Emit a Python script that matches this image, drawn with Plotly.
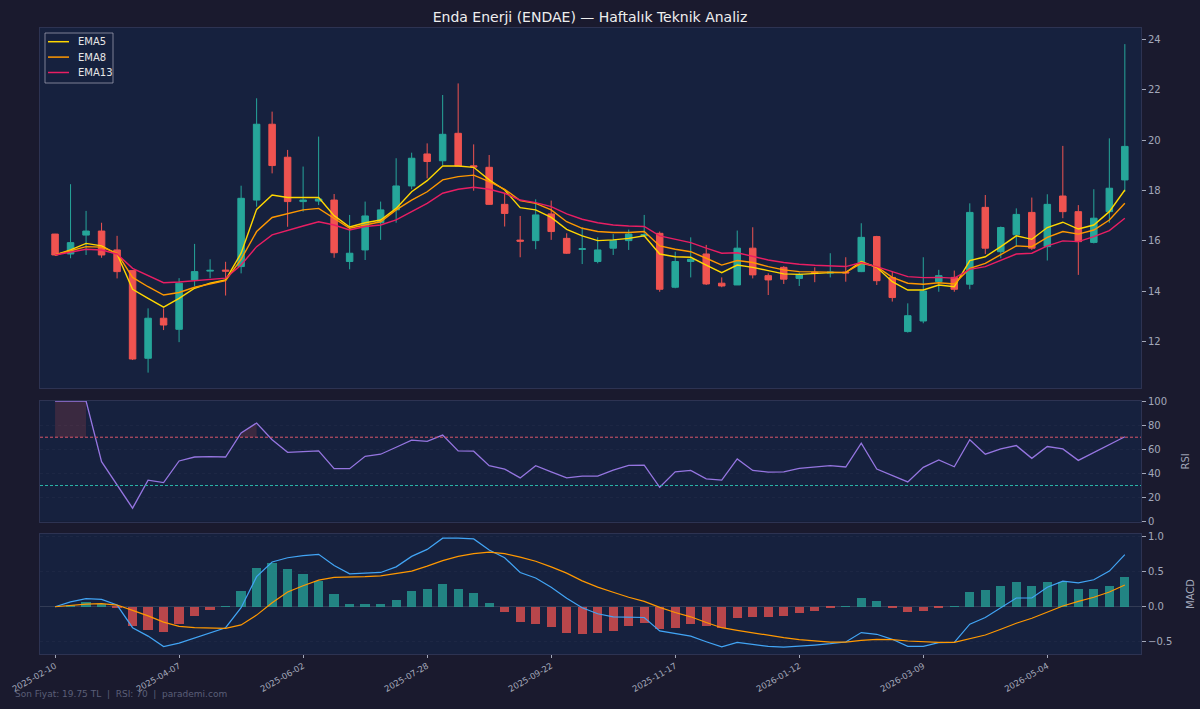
import pandas as pd
import plotly.graph_objects as go
from plotly.subplots import make_subplots

# === Weekly OHLC ===
dates = pd.date_range("2025-02-10", periods=70, freq="7D")

opens = [16.27, 15.48, 16.23, 16.39, 15.64, 14.82, 11.34, 12.93, 12.49, 14.45,
         14.80, 14.84, 14.98, 17.62, 20.63, 19.32, 17.56, 17.58, 17.62, 15.18,
         15.64, 16.72, 17.23, 18.18, 19.45, 19.18, 20.27, 18.98, 18.92, 17.45,
         16.03, 16.01, 17.07, 16.10, 15.66, 15.18, 15.71, 16.01, 16.20, 16.30,
         14.16, 15.18, 15.48, 14.32, 14.25, 15.71, 14.62, 14.95, 14.51, 14.75,
         14.72, 14.76, 14.78, 16.17, 14.55, 12.40, 12.82, 14.38, 14.55, 14.28,
         17.33, 15.57, 16.24, 17.13, 15.77, 17.78, 17.16, 15.94, 17.16, 18.42]
highs = [16.28, 18.25, 17.19, 16.72, 16.20, 14.82, 13.32, 13.32, 14.52, 15.88,
         15.27, 15.17, 18.19, 21.66, 21.13, 19.61, 18.95, 20.14, 17.86, 17.03,
         17.56, 17.56, 19.28, 19.50, 19.87, 21.79, 22.25, 19.83, 19.41, 17.89,
         16.99, 17.65, 17.60, 16.30, 16.54, 16.14, 16.27, 16.45, 17.03, 16.37,
         15.57, 16.14, 15.84, 14.55, 16.41, 16.54, 14.71, 15.00, 14.74, 14.95,
         15.51, 15.35, 16.70, 16.20, 14.78, 13.52, 15.35, 14.85, 14.82, 17.49,
         17.82, 16.57, 17.29, 17.72, 17.85, 19.77, 17.42, 18.05, 20.07, 23.81]
lows = [15.42, 15.31, 15.44, 15.33, 14.51, 11.27, 10.77, 12.46, 11.98, 14.20,
        14.52, 13.83, 14.71, 17.36, 18.68, 16.56, 17.16, 17.42, 15.33, 14.87,
        15.24, 16.04, 16.72, 18.05, 18.48, 19.01, 18.97, 17.99, 17.43, 16.57,
        15.35, 15.67, 16.04, 15.48, 15.08, 15.11, 15.44, 15.64, 16.15, 13.98,
        14.12, 14.55, 14.25, 14.16, 14.25, 14.51, 13.85, 14.29, 14.21, 14.36,
        14.55, 14.38, 14.76, 14.25, 13.59, 12.36, 12.73, 13.98, 13.98, 14.08,
        15.48, 15.31, 15.77, 15.64, 15.22, 16.90, 14.65, 15.90, 16.72, 17.95]
closes = [15.44, 15.93, 16.39, 15.44, 14.78, 11.31, 12.93, 12.66, 14.32, 14.78,
          14.83, 14.80, 17.69, 20.63, 18.99, 17.56, 17.62, 17.66, 15.53, 15.51,
          16.99, 17.23, 18.18, 19.28, 19.15, 20.23, 18.97, 18.93, 17.45, 17.09,
          15.99, 17.03, 16.37, 15.51, 15.69, 15.64, 16.01, 16.27, 16.25, 14.08,
          15.18, 15.27, 14.29, 14.21, 15.71, 14.65, 14.45, 14.48, 14.67, 14.72,
          14.76, 14.73, 16.14, 14.42, 13.75, 13.03, 14.01, 14.62, 14.08, 17.13,
          15.71, 16.53, 17.05, 15.71, 17.45, 17.16, 15.97, 16.90, 18.09, 19.75]

ema5 = [15.44, 15.64, 15.90, 15.80, 15.48, 14.08, 13.72, 13.37, 13.72, 14.12,
        14.32, 14.45, 15.51, 17.25, 17.82, 17.72, 17.72, 17.72, 17.00, 16.55,
        16.72, 16.83, 17.29, 17.95, 18.39, 18.97, 18.97, 18.92, 18.42, 18.02,
        17.32, 17.23, 16.93, 16.46, 16.20, 16.01, 16.04, 16.10, 16.20, 15.48,
        15.37, 15.35, 15.04, 14.74, 15.04, 14.95, 14.82, 14.69, 14.67, 14.71,
        14.74, 14.74, 15.18, 14.95, 14.38, 14.05, 14.05, 14.25, 14.18, 15.22,
        15.37, 15.77, 16.20, 16.06, 16.53, 16.74, 16.47, 16.63, 17.16, 18.02]
ema8 = [15.44, 15.61, 15.77, 15.75, 15.51, 14.55, 14.18, 13.85, 13.95, 14.16,
        14.29, 14.42, 15.27, 16.37, 16.93, 17.09, 17.23, 17.29, 16.90, 16.50,
        16.63, 16.76, 17.23, 17.62, 17.95, 18.42, 18.55, 18.61, 18.35, 18.05,
        17.60, 17.49, 17.23, 16.76, 16.50, 16.37, 16.33, 16.33, 16.37, 15.80,
        15.67, 15.57, 15.31, 15.04, 15.22, 15.14, 14.98, 14.85, 14.78, 14.77,
        14.75, 14.75, 15.11, 14.98, 14.55, 14.32, 14.28, 14.34, 14.29, 14.91,
        15.11, 15.44, 15.80, 15.77, 16.14, 16.37, 16.27, 16.43, 16.83, 17.49]
ema13 = [15.44, 15.57, 15.67, 15.64, 15.48, 14.91, 14.61, 14.34, 14.37, 14.42,
         14.48, 14.52, 15.04, 15.77, 16.24, 16.43, 16.59, 16.76, 16.63, 16.43,
         16.57, 16.63, 16.83, 17.16, 17.49, 17.89, 18.05, 18.13, 18.05, 17.89,
         17.62, 17.52, 17.36, 17.07, 16.86, 16.72, 16.63, 16.59, 16.57, 16.20,
         16.06, 15.93, 15.71, 15.51, 15.53, 15.37, 15.24, 15.14, 15.07, 15.03,
         15.00, 14.98, 15.14, 14.98, 14.78, 14.58, 14.54, 14.55, 14.52, 14.87,
         14.98, 15.24, 15.48, 15.51, 15.80, 16.00, 15.97, 16.17, 16.41, 16.90]

rsi = [100, 100, 100, 49.7, 30.7, 11.2, 34.4, 32.4, 50.3, 53.6,
       53.9, 53.6, 73.5, 81.8, 67.9, 57.5, 58.1, 58.7, 43.9, 43.9,
       54.2, 55.9, 61.7, 67.6, 66.5, 71.8, 58.7, 58.4, 46.4, 43.6,
       36.3, 46.4, 41.3, 36.3, 37.7, 37.7, 42.7, 46.6, 46.9, 28.5,
       41.3, 42.5, 35.5, 34.4, 52.0, 42.5, 41.1, 41.3, 44.1, 45.3,
       46.4, 45.3, 65.1, 43.6, 38.0, 33.0, 45.0, 51.1, 45.5, 67.9,
       55.9, 60.3, 63.1, 52.5, 62.3, 60.3, 50.8, 57.3, 63.7, 70.4]

macd = [0.0, 0.07, 0.115, 0.105, 0.024, -0.30, -0.42, -0.57, -0.52, -0.45,
        -0.38, -0.30, -0.014, 0.43, 0.64, 0.70, 0.73, 0.75, 0.59, 0.47,
        0.48, 0.49, 0.57, 0.72, 0.82, 0.98, 0.98, 0.97, 0.81, 0.70,
        0.49, 0.41, 0.28, 0.12, -0.014, -0.10, -0.144, -0.154, -0.154, -0.346,
        -0.385, -0.42, -0.50, -0.575, -0.51, -0.54, -0.567, -0.577, -0.567, -0.548,
        -0.529, -0.505, -0.37, -0.394, -0.466, -0.567, -0.567, -0.514, -0.51, -0.25,
        -0.154, -0.01, 0.125, 0.125, 0.279, 0.365, 0.341, 0.385, 0.51, 0.745]
signal = [0.0, 0.024, 0.038, 0.043, 0.024, -0.053, -0.13, -0.22, -0.28, -0.30,
          -0.31, -0.31, -0.26, -0.12, 0.058, 0.21, 0.30, 0.38, 0.42, 0.42,
          0.43, 0.44, 0.47, 0.51, 0.58, 0.66, 0.72, 0.76, 0.78, 0.76,
          0.71, 0.65, 0.57, 0.48, 0.37, 0.28, 0.207, 0.135, 0.077, -0.01,
          -0.082, -0.144, -0.226, -0.30, -0.337, -0.375, -0.404, -0.442, -0.471, -0.49,
          -0.505, -0.505, -0.48, -0.466, -0.471, -0.49, -0.505, -0.51, -0.51, -0.457,
          -0.404, -0.322, -0.236, -0.164, -0.082, 0.01, 0.077, 0.135, 0.211, 0.31]
hist = [0.0, 0.02, 0.07, 0.04, -0.02, -0.27, -0.33, -0.36, -0.25, -0.13,
        -0.05, 0.003, 0.23, 0.55, 0.63, 0.54, 0.47, 0.37, 0.18, 0.04,
        0.04, 0.04, 0.10, 0.22, 0.25, 0.32, 0.26, 0.20, 0.05, -0.08,
        -0.22, -0.25, -0.29, -0.37, -0.39, -0.38, -0.35, -0.27, -0.23, -0.32,
        -0.30, -0.25, -0.27, -0.30, -0.16, -0.15, -0.14, -0.13, -0.096, -0.058,
        -0.019, 0.005, 0.12, 0.077, -0.005, -0.082, -0.058, -0.005, 0.005, 0.21,
        0.24, 0.30, 0.36, 0.30, 0.36, 0.36, 0.26, 0.25, 0.30, 0.43]

ema_names = ["EMA5", "EMA8", "EMA13"]
ema_colors = ["#ffd700", "#ff9800", "#e91e63"]

# === Colours / layout constants ===
BG = "#1a1a2e"
PANEL = "#16213e"
SPINE = "#2d3352"
TXT = "#a3a8ba"
GREEN = "#26a69a"
RED = "#ef5350"
FONT = "DejaVu Sans"
W, H = 1200, 709
ML, MR, MT, MB = 40, 59, 28, 55
PW, PH = W - ML - MR, H - MT - MB


def px(x, y):
    """pixel position -> paper coords"""
    return (x - ML) / PW, (H - MB - y) / PH


fig = make_subplots(rows=3, cols=1, shared_xaxes=True, vertical_spacing=0.02)

# --- price panel ---
fig.add_trace(go.Candlestick(
    x=dates, open=opens, high=highs, low=lows, close=closes,
    increasing=dict(line=dict(color=GREEN, width=1), fillcolor=GREEN),
    decreasing=dict(line=dict(color=RED, width=1), fillcolor=RED),
    whiskerwidth=0, showlegend=False, name="ENDAE"), row=1, col=1)

for name, vals, col in zip(ema_names, [ema5, ema8, ema13], ema_colors):
    fig.add_trace(go.Scatter(x=dates, y=vals, mode="lines", name=name,
                             line=dict(color=col, width=1.4), showlegend=False),
                  row=1, col=1)

# --- RSI panel ---
# shade runs above 70 (only where 2+ consecutive points are overbought)
run = []
for i, v in enumerate(rsi + [0]):
    if v > 70:
        run.append(i)
        continue
    if len(run) > 1:
        xs = [dates[j] for j in run]
        ys = [rsi[j] for j in run]
        fig.add_trace(go.Scatter(x=xs + xs[::-1], y=ys + [70] * len(run),
                                 fill="toself", fillcolor="rgba(239,83,80,0.17)",
                                 line=dict(width=0), mode="lines",
                                 showlegend=False, hoverinfo="skip"), row=2, col=1)
    run = []

fig.add_trace(go.Scatter(x=dates, y=rsi, mode="lines", name="RSI",
                         line=dict(color="#9575e0", width=1.3),
                         showlegend=False), row=2, col=1)
fig.add_hline(y=70, row=2, col=1,
              line=dict(color="#d9566a", width=1, dash="3px,2px"))
fig.add_hline(y=30, row=2, col=1,
              line=dict(color="#2bb5a8", width=1, dash="3px,2px"))

# --- MACD panel ---
fig.add_trace(go.Bar(x=dates, y=hist, showlegend=False, name="Hist",
                     marker=dict(color=[GREEN if h >= 0 else RED for h in hist],
                                 line=dict(width=0)),
                     opacity=0.75, width=0.6 * 7 * 86400000), row=3, col=1)
fig.add_trace(go.Scatter(x=dates, y=macd, mode="lines", name="MACD",
                         line=dict(color="#42a5f5", width=1.2),
                         showlegend=False), row=3, col=1)
fig.add_trace(go.Scatter(x=dates, y=signal, mode="lines", name="Sinyal",
                         line=dict(color="#ff9800", width=1.2),
                         showlegend=False), row=3, col=1)

# --- axes ---
day = pd.Timedelta(days=1)
xr = [dates[0] - 6.8 * day, dates[-1] + 7.3 * day]
tickdates = dates[::8]

for r in (1, 2, 3):
    fig.update_xaxes(row=r, col=1, range=xr, showgrid=False, zeroline=False,
                     automargin=False,
                     showline=True, mirror=True, linecolor=SPINE, linewidth=1,
                     tickvals=list(tickdates),
                     ticktext=[d.strftime("%Y-%m-%d") for d in tickdates],
                     showticklabels=(r == 3), ticks="outside" if r == 3 else "",
                     ticklen=3, tickcolor=TXT, tickangle=-30,
                     tickfont=dict(size=8.5, color=TXT, family=FONT))

yax = dict(side="right", showline=True, mirror=True, linecolor=SPINE, linewidth=1,
           ticks="outside", ticklen=4, tickcolor=TXT, automargin=False,
           tickfont=dict(size=10, color=TXT, family=FONT),
           gridcolor="rgba(255,255,255,0.03)", griddash="dot",
           zeroline=False)
fig.update_yaxes(row=1, col=1, range=[10.16, 24.45], showgrid=False,
                 tickvals=[12, 14, 16, 18, 20, 22, 24], **yax)
fig.update_yaxes(row=2, col=1, range=[0, 100], tickvals=[0, 20, 40, 60, 80, 100],
                 showgrid=True,
                 title=dict(text="RSI", font=dict(size=10, color=TXT, family=FONT)),
                 **yax)
fig.update_yaxes(row=3, col=1, range=[-0.676, 1.04], tickvals=[-0.5, 0, 0.5, 1.0],
                 tickformat=".1f", showgrid=True,
                 title=dict(text="MACD", font=dict(size=10, color=TXT, family=FONT)),
                 **yax)
fig.update_yaxes(row=3, col=1, zeroline=True, zerolinecolor="rgba(255,255,255,0.12)",
                 zerolinewidth=1)

# --- legend box drawn like the matplotlib one ---
x0, y0 = px(45, 33)
x1, y1 = px(113, 83)
fig.add_shape(type="rect", xref="paper", yref="paper", x0=x0, y0=y1, x1=x1, y1=y0,
              fillcolor="rgba(22,33,62,0.9)",
              line=dict(color="rgba(170,170,185,0.7)", width=1))
for k, (name, col) in enumerate(zip(ema_names, ema_colors)):
    yy = 41.7 + 15.4 * k
    lx0, ly = px(48, yy)
    lx1, _ = px(69, yy)
    fig.add_shape(type="line", xref="paper", yref="paper",
                  x0=lx0, x1=lx1, y0=ly, y1=ly, line=dict(color=col, width=1.5))
    tx, _ = px(76, yy)
    fig.add_annotation(text=name, xref="paper", yref="paper", x=tx, y=ly,
                       xanchor="left", yanchor="middle", showarrow=False,
                       font=dict(size=10, color="#e6e6e6", family=FONT))

fx, fy = px(13, 694)
fig.add_annotation(text="Son Fiyat: 19.75 TL  |  RSI: 70  |  parademi.com",
                   xref="paper", yref="paper", x=fx, y=fy,
                   xanchor="left", yanchor="middle", showarrow=False,
                   font=dict(size=9, color="#5a5f78", family=FONT))

fig.update_layout(
    width=W, height=H,
    paper_bgcolor=BG, plot_bgcolor=PANEL,
    margin=dict(l=ML, r=MR, t=MT, b=MB, pad=0),
    font=dict(family=FONT, color=TXT),
    boxgap=0.4,
    bargap=0,
    xaxis_rangeslider_visible=False,
    yaxis=dict(domain=[px(0, 388)[1], 1.0]),
    yaxis2=dict(domain=[px(0, 521.7)[1], px(0, 401)[1]]),
    yaxis3=dict(domain=[0.0, px(0, 534)[1]]),
    title=dict(text="Enda Enerji (ENDAE) — Haftalık Teknik Analiz",
               x=590 / W, xanchor="center", y=1 - 17 / H, yanchor="middle",
               font=dict(size=14, color="#eeeeee", family=FONT)),
    showlegend=False,
)

fig.write_html("out.html", config={"displayModeBar": False},
               post_script="document.body.style.margin='0';")
